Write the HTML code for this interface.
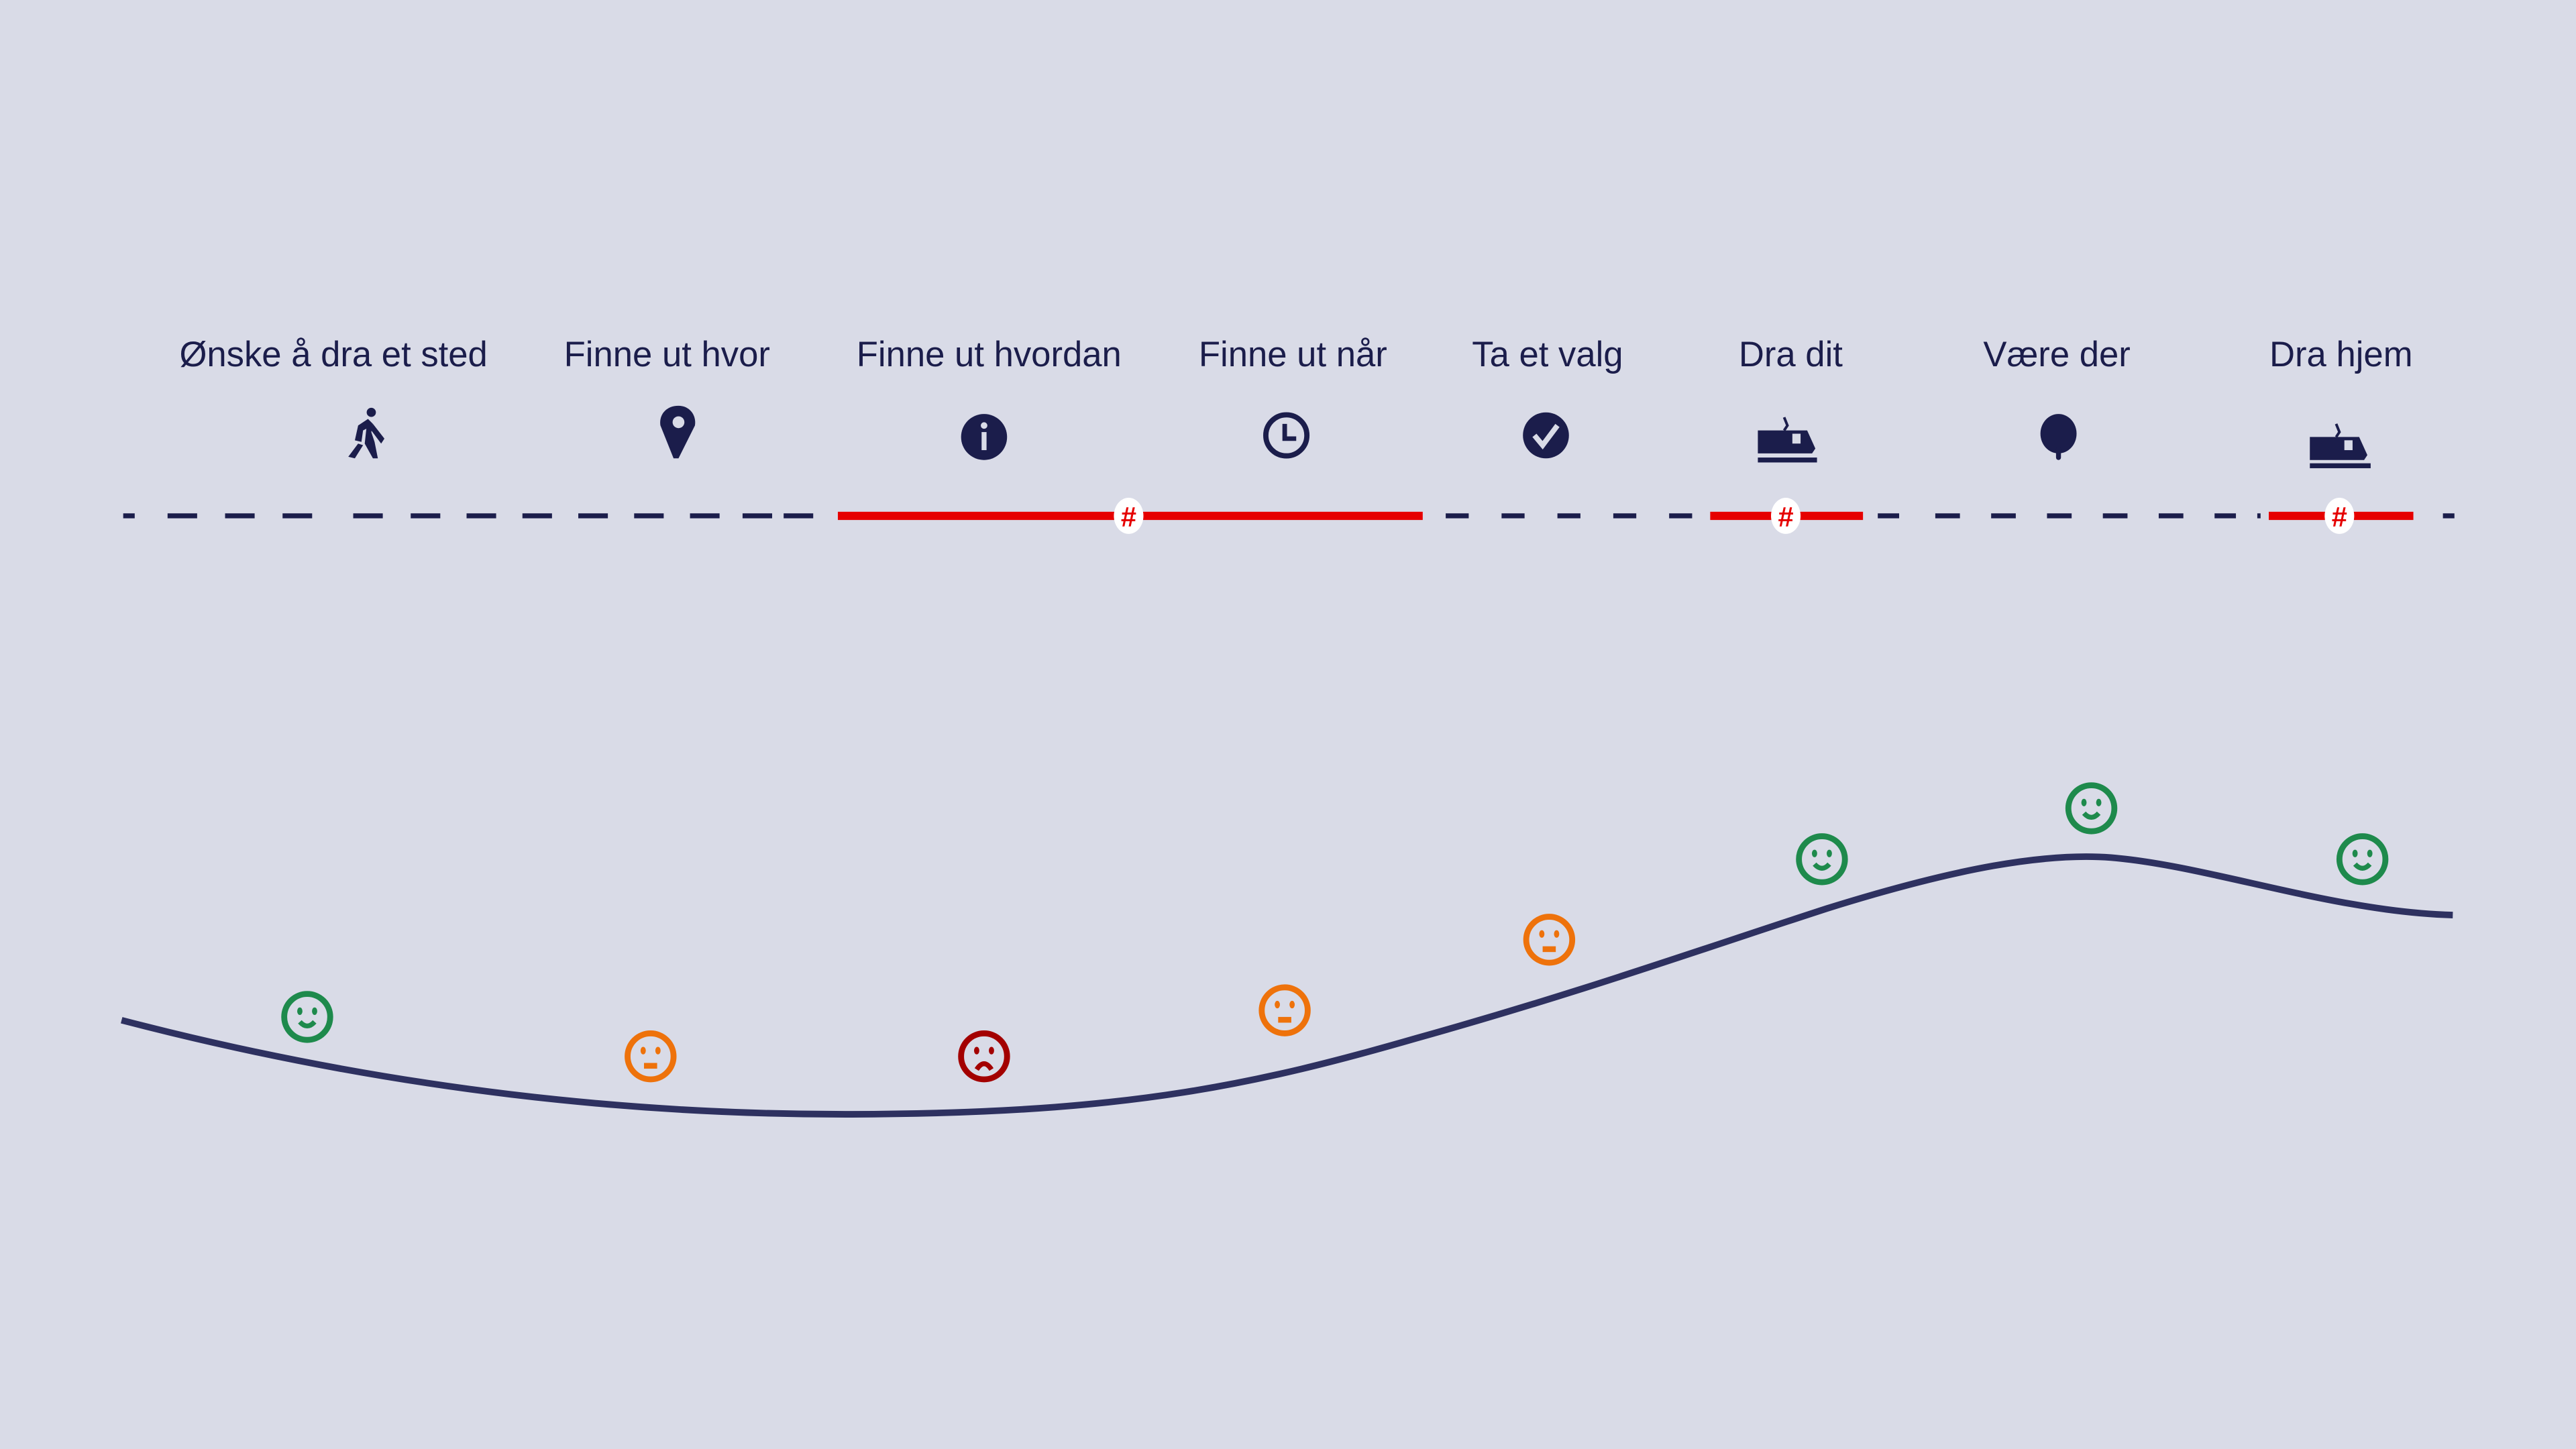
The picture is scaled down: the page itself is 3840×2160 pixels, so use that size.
<!DOCTYPE html>
<html><head><meta charset="utf-8"><style>
html,body{margin:0;padding:0;background:#d9dbe7;}
svg{display:block}
</style></head><body>
<svg width="3840" height="2160" viewBox="0 0 1568 882" xmlns="http://www.w3.org/2000/svg">
<rect width="1568" height="882" fill="#d9dbe7"/>
<defs>
<g id="face">
 <circle r="14" fill="none" stroke="currentColor" stroke-width="3.6"/>
 <ellipse cx="-4.5" cy="-3.5" rx="1.6" ry="2.3" fill="currentColor"/>
 <ellipse cx="4.5" cy="-3.5" rx="1.6" ry="2.3" fill="currentColor"/>
</g>
</defs>
<g font-family="Liberation Sans, DejaVu Sans, sans-serif" font-size="21.5" fill="#1b1d4b" text-anchor="middle">
<text x="203" y="223">Ønske å dra et sted</text>
<text x="406" y="223">Finne ut hvor</text>
<text x="602" y="223">Finne ut hvordan</text>
<text x="787" y="223">Finne ut når</text>
<text x="942" y="223">Ta et valg</text>
<text x="1090" y="223">Dra dit</text>
<text x="1252" y="223">Være der</text>
<text x="1425" y="223">Dra hjem</text>
</g>
<g fill="#1b1d4b">
 <!-- walker -->
 <circle cx="226" cy="251" r="2.8"/>
 <path d="M224 255 L218 259 L216 268 L220 269 L221 262 L223 261 L222 270 L227 279 L230 279 L228 269 L226 263 L227 258 Z"/>
 <path d="M227 258 L234 267 L232 270 L226 262Z"/>
 <path d="M218 270 L221 271 L216 279 L212 278Z"/>
 <!-- pin -->
 <path d="M413 247 C405 247 401 253 402 259 L410 279 L413 279 L423 259 C424 253 420 247 413 247Z"/>
 <circle cx="413" cy="257" r="3.6" fill="#d9dbe7"/>
 <!-- info -->
 <circle cx="599" cy="266" r="14"/>
 <circle cx="599" cy="259" r="2" fill="#d9dbe7"/>
 <rect x="597.5" y="263" width="3" height="11" fill="#d9dbe7"/>
 <!-- clock -->
 <circle cx="783" cy="265" r="12.5" fill="none" stroke="#1b1d4b" stroke-width="3.2"/>
 <path d="M782 258 V267 H789" fill="none" stroke="#1b1d4b" stroke-width="2.8"/>
 <!-- check -->
 <circle cx="941" cy="265" r="14"/>
 <path d="M934 265 L939 271 L948 259" fill="none" stroke="#d9dbe7" stroke-width="3.2"/>
 <!-- train dit -->
 <path d="M1070 262 H1100 L1105 273 L1103 276 H1070Z"/>
 <rect x="1091" y="264" width="5" height="6" fill="#d9dbe7"/>
 <path d="M1086 254 L1088 259 L1086 262" fill="none" stroke="#1b1d4b" stroke-width="1.6"/>
 <rect x="1070" y="278.5" width="36" height="3"/>
 <!-- balloon -->
 <ellipse cx="1253" cy="264" rx="11" ry="12"/>
 <rect x="1251.5" y="272" width="3" height="8" rx="1.5"/>
 <!-- train hjem -->
 <path d="M1406 266 H1436 L1441 277 L1439 280 H1406Z"/>
 <rect x="1427" y="268" width="5" height="6" fill="#d9dbe7"/>
 <path d="M1422 258 L1424 263 L1422 266" fill="none" stroke="#1b1d4b" stroke-width="1.6"/>
 <rect x="1406" y="282" width="37" height="3"/>
</g>
<!-- timeline -->
<g stroke-width="3">
 <path d="M75 314 H495" stroke="#1b1d4b" stroke-dasharray="7 20 18 17 18 17 18 25 18 17 18 16 18 16 18 16 18 16 18 16 18 14 18"/>
 <path d="M880 314 H1030" stroke="#1b1d4b" stroke-dasharray="14 20 14 20 14 20 14 20 14"/>
 <path d="M1143 314 H1376" stroke="#1b1d4b" stroke-dasharray="13 22 15 19 15 19 15 19 15 19 15 19 13"/>
 <path d="M1487 314 H1494" stroke="#1b1d4b"/>
</g>
<g stroke="#e60000" stroke-width="5">
 <path d="M510 314 H866"/>
 <path d="M1041 314 H1134"/>
 <path d="M1381 314 H1469"/>
</g>
<g font-family="Liberation Sans, sans-serif" font-size="17" font-weight="bold" fill="#e60000" text-anchor="middle">
 <ellipse cx="687" cy="314" rx="9" ry="11" fill="#fff"/><text x="687" y="320.5">#</text>
 <ellipse cx="1087" cy="314" rx="9" ry="11" fill="#fff"/><text x="1087" y="320.5">#</text>
 <ellipse cx="1424" cy="314" rx="9" ry="11" fill="#fff"/><text x="1424" y="320.5">#</text>
</g>
<!-- curve -->
<path d="M74 621 C270 672 430 680 545 678 C690 676 765 660 862 632 C962 604 1032 579 1112 553 C1192 528 1245 519 1285 522 C1345 527 1420 555 1493 557" fill="none" stroke="#2e3160" stroke-width="4"/>
<!-- faces -->
<g color="#1e8a4c">
 <g transform="translate(187 619)"><use href="#face"/><path d="M-4.5 3 Q0 8 4.5 3" fill="none" stroke="currentColor" stroke-width="3"/></g>
 <g transform="translate(1109 523)"><use href="#face"/><path d="M-4.5 3 Q0 8 4.5 3" fill="none" stroke="currentColor" stroke-width="3"/></g>
 <g transform="translate(1273 492)"><use href="#face"/><path d="M-4.5 3 Q0 8 4.5 3" fill="none" stroke="currentColor" stroke-width="3"/></g>
 <g transform="translate(1438 523)"><use href="#face"/><path d="M-4.5 3 Q0 8 4.5 3" fill="none" stroke="currentColor" stroke-width="3"/></g>
</g>
<g color="#ee720b">
 <g transform="translate(396 643)"><use href="#face"/><rect x="-4" y="4" width="8" height="3.5" fill="currentColor"/></g>
 <g transform="translate(782 615)"><use href="#face"/><rect x="-4" y="4" width="8" height="3.5" fill="currentColor"/></g>
 <g transform="translate(943 572)"><use href="#face"/><rect x="-4" y="4" width="8" height="3.5" fill="currentColor"/></g>
</g>
<g color="#a30000">
 <g transform="translate(599 643)"><use href="#face"/><path d="M-4.5 8 Q0 1 4.5 8" fill="none" stroke="currentColor" stroke-width="3"/></g>
</g>
</svg>
</body></html>
